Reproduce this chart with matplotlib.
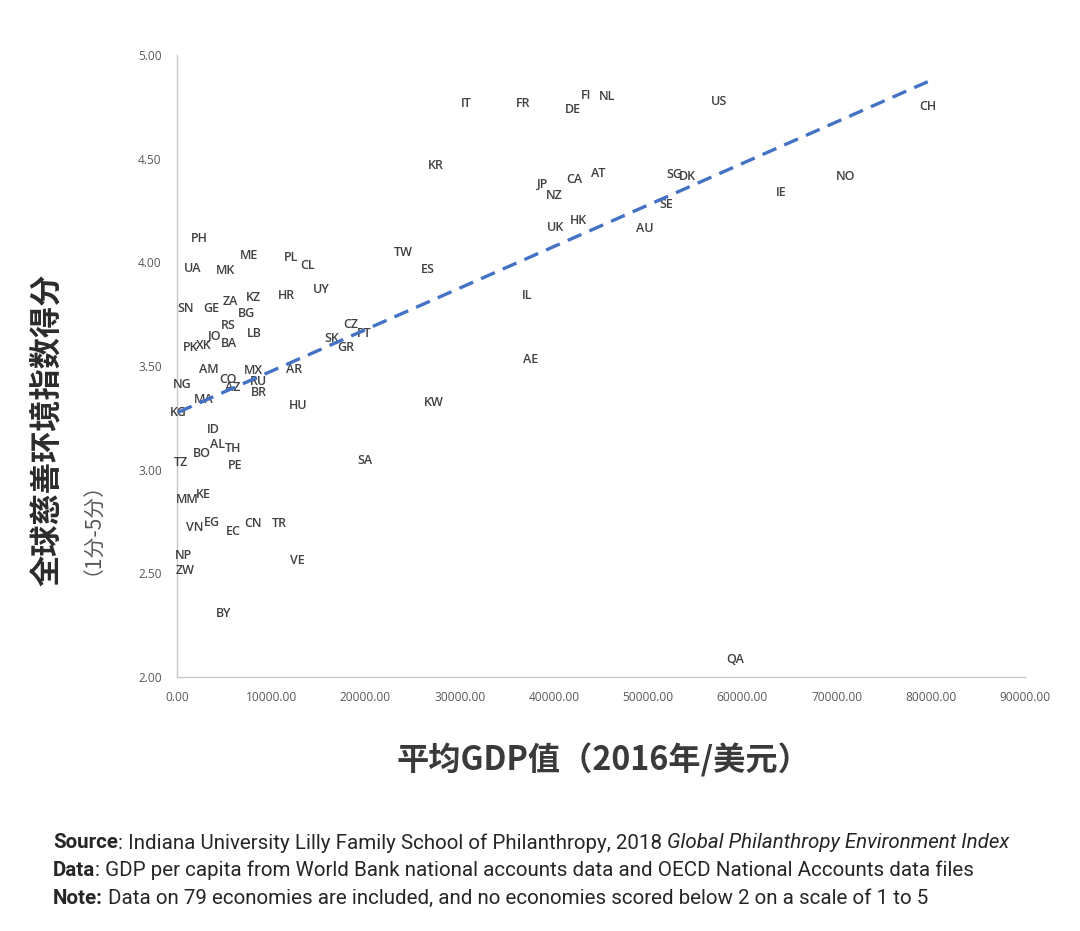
import numpy as np
import matplotlib
matplotlib.use("Agg")
import matplotlib.pyplot as plt

plt.rcParams['font.family'] = ['Noto Sans CJK SC', 'DejaVu Sans']

# ---------------- data ----------------
codes = ["PH", "ME", "PL", "CL", "UA", "MK", "UY", "ZA", "KZ", "HR",
         "SN", "GE", "BG", "RS", "LB", "JO", "PK", "XK", "BA", "CZ",
         "PT", "SK", "GR", "AM", "MX", "AR", "CO", "RU", "AZ", "NG",
         "BR", "MA", "HU", "KG", "ID", "AL", "BO", "TH", "TZ", "PE",
         "SA", "MM", "KE", "VN", "EG", "EC", "CN", "TR", "NP", "ZW",
         "VE", "BY", "TW", "ES", "IL", "AE", "KW", "UK", "IT", "FR",
         "DE", "FI", "NL", "US", "KR", "JP", "CA", "AT", "NZ", "SG",
         "DK", "SE", "HK", "AU", "IE", "NO", "CH", "QA"]

gdp = [2367, 7673, 12067, 13871, 1666, 5200, 15283, 5625, 8140, 11643,
       955, 3608, 7397, 5445, 8204, 4033, 1454, 2834, 5487, 18435,
       19847, 16482, 17862, 3428, 8140, 12449, 5381, 8671, 5912, 605,
       8671, 2866, 12810, 100, 3853, 4277, 2685, 5912, 393, 6156,
       19953, 1093, 2791, 1910, 3683, 5975, 8034, 10825, 669, 849,
       12768, 4988, 24018, 26671, 37114, 37539, 27276, 40224, 30672, 36754,
       41996, 43408, 45605, 57555, 27488, 38812, 42166, 44682, 40044, 52748,
       54202, 51898, 42665, 49702, 64178, 70970, 79673, 59222]

score = [4.116, 4.032, 4.024, 3.984, 3.971, 3.960, 3.868, 3.813, 3.829, 3.842,
         3.776, 3.776, 3.751, 3.693, 3.659, 3.641, 3.590, 3.598, 3.608, 3.699,
         3.658, 3.634, 3.588, 3.482, 3.477, 3.482, 3.436, 3.426, 3.395, 3.413,
         3.371, 3.337, 3.308, 3.276, 3.196, 3.119, 3.079, 3.100, 3.036, 3.019,
         3.043, 2.858, 2.881, 2.722, 2.744, 2.701, 2.741, 2.739, 2.587, 2.515,
         2.563, 2.304, 4.046, 3.966, 3.842, 3.529, 3.322, 4.170, 4.767, 4.765,
         4.735, 4.804, 4.802, 4.775, 4.469, 4.378, 4.399, 4.427, 4.320, 4.423,
         4.416, 4.278, 4.201, 4.162, 4.338, 4.416, 4.751, 2.082]

x_ticks = [0, 10000, 20000, 30000, 40000, 50000, 60000, 70000, 80000, 90000]
y_ticks = [2.0, 2.5, 3.0, 3.5, 4.0, 4.5, 5.0]

y_title = "全球慈善环境指数得分"
y_subtitle = "（1分-5分）"
x_title = "平均GDP值（2016年/美元）"

footer = [
    [("Source", "bold", "normal"), (": Indiana University Lilly Family School of Philanthropy, 2018 ", "normal", "normal"),
     ("Global Philanthropy Environment Index", "normal", "italic")],
    [("Data", "bold", "normal"), (": GDP per capita from World Bank national accounts data and OECD National Accounts data files", "normal", "normal")],
    [("Note:", "bold", "normal"), ("Data on 79 economies are included, and no economies scored below 2 on a scale of 1 to 5", "normal", "normal")],
]

# ---------------- figure ----------------
W, H = 1080, 931
fig = plt.figure(figsize=(W / 100, H / 100), dpi=100)
fig.patch.set_facecolor("white")

ax = fig.add_axes([177 / W, 1 - 677 / H, (1025 - 177) / W, (677 - 55) / H])
ax.set_xlim(0, 90000)
ax.set_ylim(2.0, 5.0)

x = np.array(gdp, dtype=float)
y = np.array(score, dtype=float)

# labels as the marks
for c, xi, yi in zip(codes, x, y):
    ax.text(xi, yi, c, ha="center", va="center", fontsize=9.0,
            color="#404040", fontweight="semibold",
            family=["Open Sans", "DejaVu Sans"], zorder=3)

# linear trend line
slope, intercept = np.polyfit(x, y, 1)
xs = np.array([x.min(), x.max()])
ax.plot(xs, intercept + slope * xs, color="#4472C4", lw=2.4,
        dashes=(4.5, 2.6), zorder=4, dash_capstyle="butt")

for s in ["top", "right"]:
    ax.spines[s].set_visible(False)
for s in ["left", "bottom"]:
    ax.spines[s].set_color("#C8C8C8")
    ax.spines[s].set_linewidth(1.0)

ax.set_xticks(x_ticks)
ax.set_yticks(y_ticks)
ax.set_xticklabels([f"{v:.2f}" for v in x_ticks])
ax.set_yticklabels([f"{v:.2f}" for v in y_ticks])
ax.tick_params(length=0, labelsize=8.6, labelcolor="#595959")
for lab in ax.get_xticklabels() + ax.get_yticklabels():
    lab.set_family(["Open Sans", "DejaVu Sans"])
ax.tick_params(axis="x", pad=10)
ax.tick_params(axis="y", pad=11)

# axis titles
fig.text(47 / W, 1 - 430 / H, y_title, rotation=90, ha="center", va="center",
         fontsize=22.5, fontweight="bold", color="#2b2b2b")
fig.text(82 / W, 1 - 518 / H, y_subtitle, rotation=90, ha="center", va="center",
         fontsize=15, color="#595959")
fig.text(603 / W, 1 - 760 / H, x_title, ha="center", va="center",
         fontsize=23.2, fontweight="bold", color="#3a3a3a")

# footer with mixed styles
fig.canvas.draw()
renderer = fig.canvas.get_renderer()
line_y = [843, 870, 898]
for parts, ly in zip(footer, line_y):
    xpos = 53 / W
    for i, (txt, wt, st) in enumerate(parts):
        t = fig.text(xpos, 1 - ly / H, txt, ha="left", va="center",
                     fontsize=14.8, fontweight=wt, fontstyle=st,
                     color="#262626", family=["Roboto", "DejaVu Sans"])
        bb = t.get_window_extent(renderer=renderer)
        xpos += bb.width / W
        if txt.endswith(":"):
            xpos += 5 / W

fig.savefig("out.png", dpi=100, facecolor="white")
